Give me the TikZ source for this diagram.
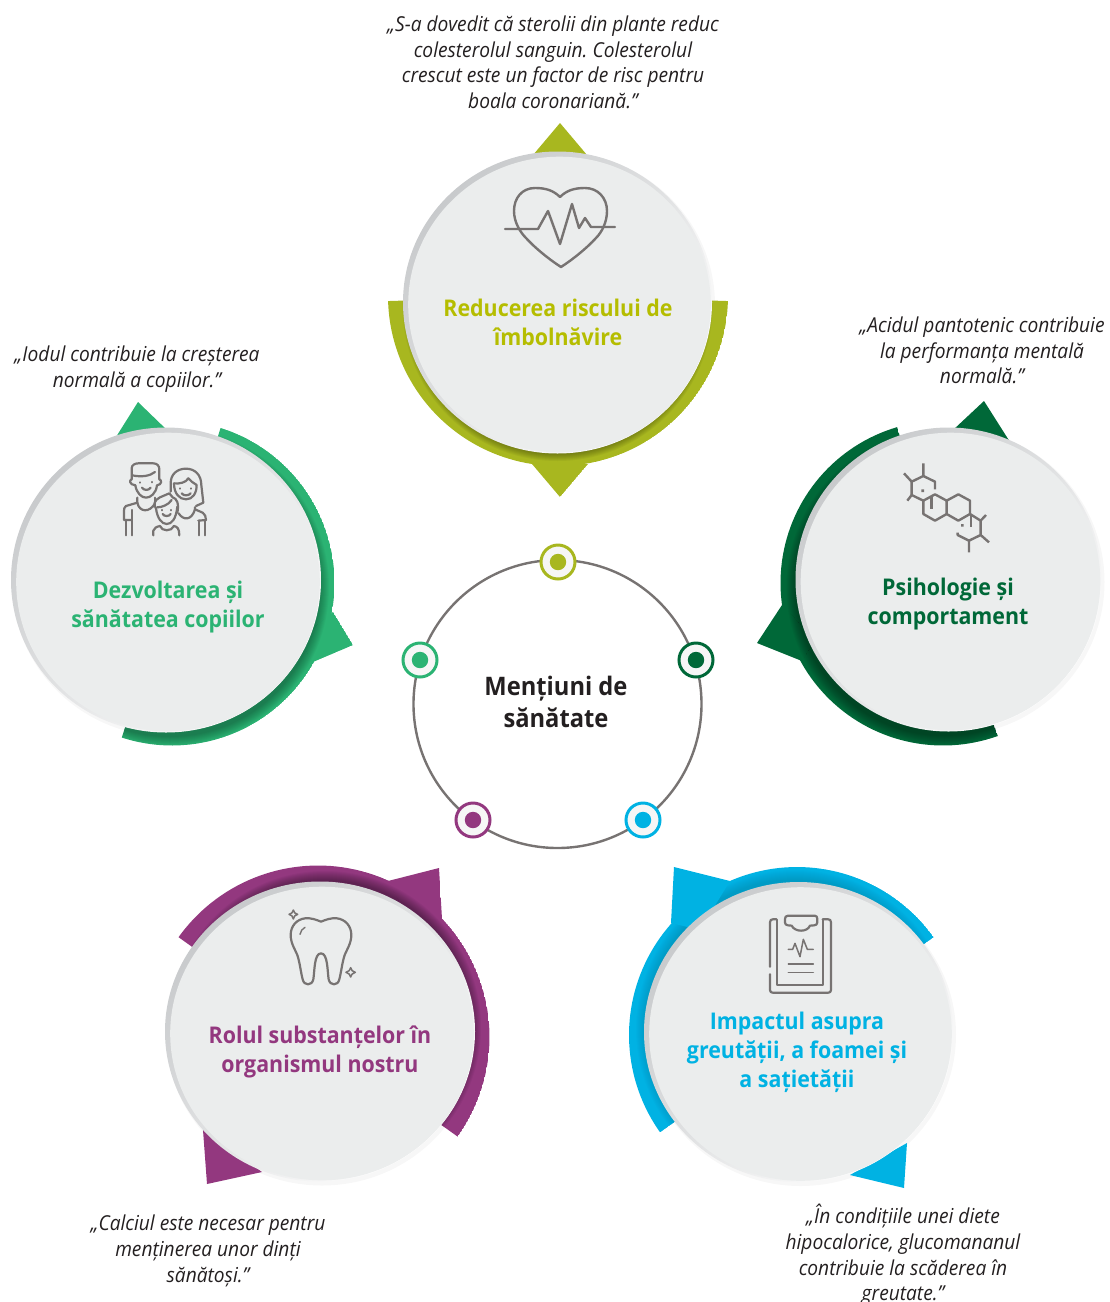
\documentclass[tikz,border=0pt]{standalone}
\usepackage{fontspec}
\setmainfont[FakeStretch=0.93]{Open Sans}
\definecolor{olive}{HTML}{A8B71F}
\definecolor{olivetxt}{HTML}{B5BD00}
\definecolor{teal}{HTML}{2BB373}
\definecolor{dgreen}{HTML}{006838}
\definecolor{purp}{HTML}{93387F}
\definecolor{cyanb}{HTML}{00B2E3}
\definecolor{icong}{HTML}{777372}
\definecolor{ink}{HTML}{231F20}
\definecolor{face}{HTML}{EBEDED}
\definecolor{rimdark}{HTML}{C8CACC}
\definecolor{dotfill}{HTML}{F6F6F6}
\tikzset{
  quote/.style={font=\fontsize{20.6}{25.6}\selectfont\itshape\frenchspacing,text=ink,align=center,inner sep=0pt},
  title/.style={font=\fontsize{23}{29}\selectfont\bfseries,align=center,inner sep=0pt},
  icon/.style={draw=icong,line width=2.2pt,line cap=round,line join=round},
  hub/.style={circle,draw=icong,line width=2.4pt,minimum size=288pt,inner sep=0pt},
  hubtxt/.style={font=\fontsize{25.5}{32}\selectfont\bfseries,text=ink,align=center,inner sep=0pt},
  hubdot/.style={circle,draw=#1,line width=3pt,fill=dotfill,minimum size=34pt,inner sep=0pt,
    path picture={\fill[#1] (path picture bounding box.center) circle[radius=8.2];}}
}
\newcommand\ringp[6]{plot[domain=#5:#6,samples=90,variable=\t] ({#1+#3*cos(\t)},{#2+#3*sin(\t)}) -- plot[domain=#6:#5,samples=90,variable=\t] ({#1+#4*cos(\t)},{#2+#4*sin(\t)}) -- cycle}
% path, colour, shadow cx, cy, r0, opacity
\newcommand\shadowed[6]{\begin{scope}\clip #1;\fill[#2] #1;
  \foreach \k in {0,...,9}{\fill[black,opacity=#6] (#3,#4) circle[radius={#5+\k}];}
\end{scope}}
% cx cy rx ry
\newcommand\glow[4]{\fill[black!3] (#1+2,#2+2.5) ellipse[x radius=#3+1,y radius=#4+1.5];}
\newcommand\disc[4]{%
  \shade[top color=rimdark,bottom color=white,middle color=rimdark!55,shading angle=45] (#1,#2) ellipse[x radius=#3,y radius=#4];
  \fill[face] (#1+2,#2+2) ellipse[x radius=#3-3.2,y radius=#4-3.2];}
\begin{document}
\begin{tikzpicture}[x=1pt,y=-1pt]
\useasboundingbox (0,0) rectangle (1110,1302);
\clip (0,0) rectangle (1110,1302);
\glow{557.5}{302.5}{154.5}{151}
\glow{166}{580}{155}{152.5}
\glow{948.5}{579.5}{153}{152}
\glow{320}{1031.5}{155}{150}
\glow{798.5}{1032}{154.5}{150}
% ---- top
\shadowed{\ringp{558}{296}{170}{120}{1.7}{178.3}}{olive}{557.5}{306}{146}{.045}
\shadowed{(560,497) -- (532,464) -- (588,464) -- cycle}{olive}{557.5}{306}{146}{.045}
\fill[olive] (560,123) -- (533,155) -- (587,155) -- cycle;
\disc{557.5}{302.5}{154.5}{151}
% ---- left
\shadowed{\ringp{172}{583}{162.5}{120}{-72.6}{108}}{teal}{170}{587}{150}{.033}
\shadowed{(353,645) -- (333,612) -- (300,640) -- (313,662) -- cycle}{teal}{170}{587}{150}{.033}
\fill[teal] (138,402) -- (116,437) -- (168,431) -- cycle;
\disc{166}{580}{155}{152.5}
% ---- right
\shadowed{\ringp{943}{583}{162.5}{120}{70.3}{253.6}}{dgreen}{944.5}{587}{149}{.035}
\shadowed{(757,643) -- (782,605) -- (815,640) -- (802,661) -- cycle}{dgreen}{944.5}{587}{149}{.035}
\fill[dgreen] (984,401) -- (953,430) -- (1010,442) -- cycle;
\disc{948.5}{579.5}{153}{152}
% ---- purple
\shadowed{\ringp{318}{1037}{171.5}{125}{-144.4}{35.5}}{purp}{325}{1027}{147}{.04}
\shadowed{(439,868) -- (388,881) -- (410,920) -- (442,919) -- cycle}{purp}{325}{1027}{147}{.04}
\fill[purp] (207,1184) -- (203,1130) -- (262,1172) -- cycle;
\disc{320}{1031.5}{155}{150}
% ---- cyan
\shadowed{\ringp{797}{1035}{168}{125}{-215.4}{-35.6}}{cyanb}{795}{1029}{150}{.012}
\fill[cyanb] (674,867) -- (730,881) -- (700,930) -- (671,923) -- cycle;
\fill[cyanb] (904,1188) -- (907,1143) -- (850,1175) -- cycle;
\disc{798.5}{1032}{154.5}{150}
% ---- hub
\node[hub] (hub) at (557.5,704) {};
\node[hubtxt] (hubtext) at (556,702) {Menți\-uni de\\sănătate};
\node[hubdot=olive]  (d1) at (558,562) {};
\node[hubdot=teal]   (d2) at (420,660) {};
\node[hubdot=dgreen] (d3) at (696,660) {};
\node[hubdot=purp]   (d4) at (473,820) {};
\node[hubdot=cyanb]  (d5) at (643,820) {};
% ---- titles
\node[title,text=olivetxt] (t1) at (558,322.5) {Reducerea riscului de\\îmbolnăvire};
\node[title,text=teal]     (t2) at (168,607) {Dezvoltarea și\\sănătatea copiilor};
\node[title,text=dgreen]   (t3) at (948,604.5) {Psihologie și\\comportament};
\node[title,text=purp]     (t4) at (320,1052) {Rolul substanțelor în\\organismul nostru};
\node[title,text=cyanb]    (t5) at (797,1052) {Impactul asupra\\greutății, a foamei și\\a sațietății};
% ---- quotes
\node[quote] (q1) at (553,62.5) {„S-a dovedit că sterolii din plante reduc\\colesterolul sanguin. Colesterolul\\crescut este un factor de risc pentru\\boala coronariană.”};
\node[quote] (q2) at (137,369) {„Iodul contribuie la creșterea\\normală a copiilor.”};
\node[quote] (q3) at (982,350.5) {„Acidul pantotenic contribuie\\la performanța mentală\\normală.”};
\node[quote] (q4) at (208,1251) {„Calciul este necesar pentru\\menținerea unor dinți\\sănătoși.”};
\node[quote] (q5) at (903,1255) {„În condițiile unei diete\\hipocalorice, glucomananul\\contribuie la scăderea în\\greutate.”};
% ---- heart
\draw[icon,line width=2.4pt] (560,197) .. controls (553,190) and (545,188) .. (535,188) .. controls (522,188) and (514,198) .. (514,211) .. controls (514,222) and (520,232) .. (526,238) .. controls (535,248) and (550,260) .. (561,267) .. controls (572,260) and (587,248) .. (596,238) .. controls (602,232) and (607,222) .. (607,211) .. controls (607,198) and (598,188) .. (585,188) .. controls (575,188) and (567,190) .. (560,197);
\draw[icon,line width=2.4pt] (505,229) -- (538,229) -- (548,211) -- (560,244) -- (572,204) -- (579,228) -- (585,218) -- (591,227) -- (615,227);
% ---- family
\begin{scope}[shift={(100,450)},x=0.3333pt,y=-0.3333pt]
\draw[icon] (95,88) -- (95,55) .. controls (95,45) and (105,40) .. (115,40) -- (160,40) .. controls (172,40) and (178,48) .. (178,58) -- (178,88);
\draw[icon] (97,76) .. controls (125,82) and (150,78) .. (165,66);
\draw[icon] (106,106) .. controls (110,130) and (125,143) .. (138,143) .. controls (152,143) and (168,130) .. (171,106);
\draw[icon] (95,88) .. controls (87,90) and (88,104) .. (106,106);
\draw[icon] (178,88) .. controls (186,90) and (186,104) .. (171,106);
\draw[icon] (126,113) .. controls (132,122) and (146,122) .. (152,113);
\draw[icon] (121,97) -- (121,98) (157,96) -- (157,97);
\draw[icon] (112,143) -- (112,158) -- (78,168) .. controls (73,172) and (72,176) .. (72,182) -- (72,210) -- (95,210);
\draw[icon] (78,210) -- (78,256) (97,180) -- (97,256);
\draw[icon] (112,158) .. controls (118,188) and (150,188) .. (165,160);
\draw[icon] (165,143) -- (165,155);
\draw[icon] (212,125) -- (212,100) .. controls (212,72) and (232,56) .. (258,56) .. controls (285,56) and (304,75) .. (304,105) -- (310,158) -- (288,168);
\draw[icon] (222,100) .. controls (222,130) and (238,148) .. (258,148) .. controls (278,148) and (290,130) .. (290,105) .. controls (280,100) and (272,92) .. (265,85) .. controls (258,98) and (238,102) .. (222,100);
\draw[icon] (245,130) .. controls (250,138) and (266,138) .. (272,130);
\draw[icon] (240,115) -- (240,116) (273,115) -- (273,116);
\draw[icon] (285,172) -- (285,178) -- (308,188) .. controls (315,192) and (318,200) .. (318,210) -- (295,212);
\draw[icon] (297,212) -- (297,256) (315,212) -- (315,256);
\draw[icon] (236,190) .. controls (250,212) and (275,212) .. (285,178);
\draw[icon] (168,175) .. controls (172,205) and (185,222) .. (200,222) .. controls (215,222) and (228,208) .. (232,170);
\draw[icon] (168,175) .. controls (160,165) and (162,150) .. (180,142) -- (208,130) -- (218,142) .. controls (230,145) and (238,160) .. (232,188);
\draw[icon] (172,172) .. controls (185,172) and (205,165) .. (215,150);
\draw[icon] (188,192) .. controls (192,200) and (208,200) .. (212,192);
\draw[icon] (186,180) -- (186,181) (214,180) -- (214,181);
\draw[icon] (160,256) -- (160,242) .. controls (162,234) and (170,230) .. (180,228) .. controls (185,245) and (215,245) .. (222,228) .. controls (232,230) and (238,236) .. (238,256);
\end{scope}
% ---- molecule
\begin{scope}[shift={(890,450)},x=0.3333pt,y=-0.3333pt]
\tikzset{icon/.append style={line width=2.4pt,line cap=butt}}
\draw[icon] (135,118) -- (135,95) -- (100,78) -- (65,95) -- (65,135) -- (100,152);
\draw[icon] (100,78) -- (100,40) (65,95) -- (42,70) (65,135) -- (52,152);
\draw[icon] (100,152) -- (135,133) -- (170,152) -- (170,192) -- (135,212) -- (100,192) -- cycle;
\draw[icon] (170,152) -- (205,133) -- (240,152) -- (240,192) -- (205,212) -- (170,192);
\draw[icon] (240,192) -- (272,212) -- (272,255) -- (237,272) -- (203,255) -- (203,248);
\draw[icon] (272,212) -- (288,195) (272,255) -- (297,277) (237,272) -- (237,307);
\draw[icon] (124,140) -- (124,177) (243,195) -- (243,230);
\fill[icong] (94,118) rectangle (102,126) (213,222) rectangle (221,230);
\end{scope}
% ---- tooth
\begin{scope}[shift={(270,900)},x=0.3333pt,y=-0.3333pt]
\draw[icon] (153,65) .. controls (140,60) and (125,53) .. (105,55) .. controls (80,58) and (62,78) .. (62,105) .. controls (62,130) and (76,150) .. (82,165) .. controls (90,190) and (92,215) .. (98,238) .. controls (102,258) and (126,258) .. (130,238) .. controls (134,215) and (132,160) .. (153,160) .. controls (174,160) and (172,215) .. (176,238) .. controls (180,258) and (204,258) .. (208,238) .. controls (214,215) and (216,190) .. (224,165) .. controls (230,150) and (244,130) .. (244,105) .. controls (244,78) and (226,58) .. (201,55) .. controls (181,53) and (166,60) .. (153,65);
\draw[icon,line width=1.4pt] (90,103) .. controls (92,93) and (97,86) .. (105,82);
\draw[icon,line width=1.5pt] (70,30) .. controls (72,38) and (75,41) .. (83,43) .. controls (75,45) and (72,48) .. (70,57) .. controls (68,48) and (65,45) .. (57,43) .. controls (65,41) and (68,38) .. (70,30) -- cycle;
\draw[icon,line width=1.5pt] (242,203) .. controls (244,211) and (247,214) .. (256,217) .. controls (247,220) and (244,223) .. (242,231) .. controls (240,223) and (237,220) .. (228,217) .. controls (237,214) and (240,211) .. (242,203) -- cycle;
\end{scope}
% ---- clipboard
\begin{scope}[shift={(750,905)},x=0.3333pt,y=-0.3333pt]
\draw[icon] (80,43) -- (68,43) .. controls (63,43) and (60,46) .. (60,52) -- (60,185);
\draw[icon] (60,208) -- (60,255) .. controls (60,260) and (63,263) .. (68,263) -- (235,263) .. controls (240,263) and (243,260) .. (243,255) -- (243,52) .. controls (243,46) and (240,43) .. (235,43) -- (218,43);
\draw[icon] (82,45) -- (82,240) -- (220,240) -- (220,45);
\draw[icon] (105,42) .. controls (105,36) and (108,32) .. (114,32) -- (194,32) .. controls (200,32) and (202,36) .. (202,42) -- (202,52) .. controls (202,58) and (198,61) .. (192,61) -- (180,62) .. controls (172,82) and (135,82) .. (125,62) -- (114,61) .. controls (108,60) and (105,58) .. (105,52) -- cycle;
\draw[icon,line width=1.5pt] (115,133) -- (128,133) -- (135,115) -- (150,155) -- (160,103) -- (172,133) -- (190,133);
\draw[icon,line width=1.5pt] (115,177) -- (190,177) (115,202) -- (190,202);
\end{scope}
\end{tikzpicture}
\end{document}
